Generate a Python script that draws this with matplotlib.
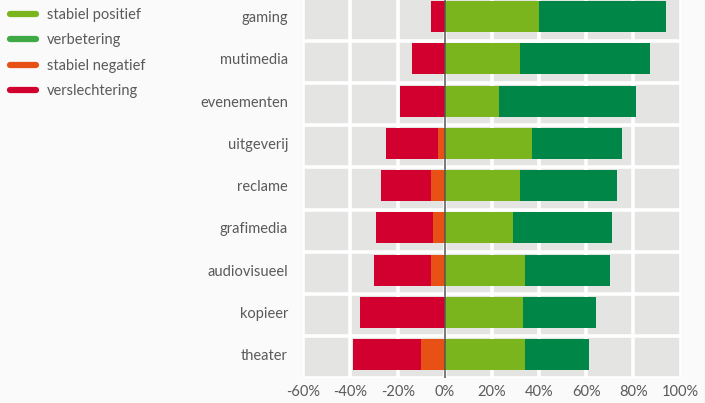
import matplotlib

matplotlib.use("Agg")
import matplotlib.pyplot as plt
from matplotlib.lines import Line2D
import numpy as np

# sector sentiment, percentages of respondents
sectors = ["gaming", "mutimedia", "evenementen", "uitgeverij", "reclame",
           "grafimedia", "audiovisueel", "kopieer", "theater"]
stabiel_positief = [40, 32, 23, 37, 32, 29, 34, 33, 34]
verbetering = [54, 55, 58, 38, 41, 42, 36, 31, 27]
stabiel_negatief = [0, 0, 0, 3, 6, 5, 6, 0, 10]
verslechtering = [6, 14, 19, 22, 21, 24, 24, 36, 29]

series_labels = ["stabiel positief", "verbetering", "stabiel negatief", "verslechtering"]
bar_colors = ["#7ab51d", "#008747", "#e85116", "#d2002e"]
legend_colors = ["#7ab51d", "#3fa945", "#e85116", "#d2002e"]
xticks = [-60, -40, -20, 0, 20, 40, 60, 80, 100]

plt.rcParams["font.family"] = ["Lato", "DejaVu Sans"]
TEXT = "#5a5a5a"
BG = "#f9faf9"
CELL = "#e4e4e3"

W, H = 705, 403
fig = plt.figure(figsize=(W / 100, H / 100), dpi=100, facecolor=BG)
ax = fig.add_axes([303.3 / W, (H - 378.4) / H, 377.3 / W, 380 / H])
ax.set_facecolor(CELL)

n = len(sectors)
y = np.arange(n) - 0.066
h = 0.735

pos = np.array(stabiel_positief)
imp = np.array(verbetering)
neg = np.array(stabiel_negatief)
worse = np.array(verslechtering)

ax.barh(y, pos, height=h, color=bar_colors[0], zorder=3)
ax.barh(y, imp, left=pos, height=h, color=bar_colors[1], zorder=3)
ax.barh(y, -neg, height=h, color=bar_colors[2], zorder=3)
ax.barh(y, -worse, left=-neg, height=h, color=bar_colors[3], zorder=3)

# white gaps between the grey cells
for xv in xticks:
    ax.axvline(xv, color="white", lw=2.6, zorder=1)
for k in range(n + 1):
    ax.axhline(k - 0.5, color="white", lw=2.6, zorder=1)
ax.axvline(0, color="#555555", lw=1.1, zorder=4)

ax.set_xlim(-60, 100)
ax.set_ylim(n - 0.5, -0.5)
ax.set_xticks(xticks)
ax.set_xticklabels([f"{v}%" for v in xticks])
ax.set_yticks(y)
ax.set_yticklabels(sectors)
ax.tick_params(length=0, labelsize=10.5, labelcolor=TEXT)
ax.tick_params(axis="y", pad=11)
ax.tick_params(axis="x", pad=5)
for s in ax.spines.values():
    s.set_visible(False)

handles = [Line2D([], [], color=c, lw=4.5, solid_capstyle="round") for c in legend_colors]
fig.legend(handles, series_labels, loc="upper left", bbox_to_anchor=(10 / W, (H - 8) / H),
           frameon=False, fontsize=10.5, labelcolor=TEXT, handlelength=1.8,
           handletextpad=0.75, labelspacing=0.78, borderpad=0, borderaxespad=0)

fig.savefig("out.png", dpi=100, facecolor=BG)
